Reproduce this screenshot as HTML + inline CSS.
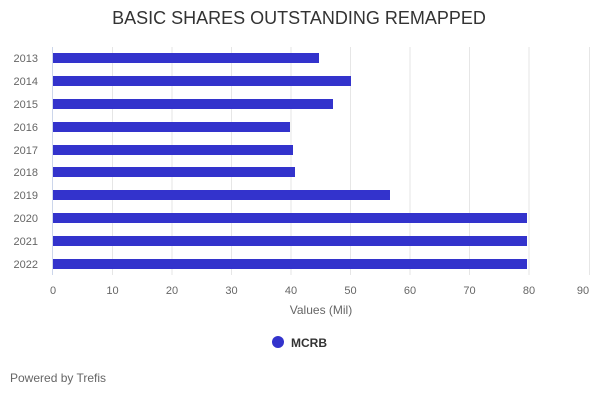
<!DOCTYPE html>
<html><head><meta charset="utf-8"><style>
body{margin:0;background:#fff;font-family:"Liberation Sans",sans-serif;}
</style></head><body>
<svg width="600" height="400" xmlns="http://www.w3.org/2000/svg" font-family="Liberation Sans, sans-serif">
<rect width="600" height="400" fill="#fff"/>
<text x="299" y="24" text-anchor="middle" font-size="18" fill="#333">BASIC SHARES OUTSTANDING REMAPPED</text>
<g stroke="#e6e6e6" stroke-width="1">
<line x1="112.5" y1="47" x2="112.5" y2="275"/>
<line x1="172" y1="47" x2="172" y2="275"/>
<line x1="231.5" y1="47" x2="231.5" y2="275"/>
<line x1="291" y1="47" x2="291" y2="275"/>
<line x1="350.5" y1="47" x2="350.5" y2="275"/>
<line x1="410" y1="47" x2="410" y2="275"/>
<line x1="469.5" y1="47" x2="469.5" y2="275"/>
<line x1="529" y1="47" x2="529" y2="275"/>
<line x1="589.5" y1="47" x2="589.5" y2="275"/>
</g>
<line x1="52.5" y1="47" x2="52.5" y2="275" stroke="#ccd6eb"/>
<g fill="#3333cc">
<rect x="53" y="53" width="266" height="10"/>
<rect x="53" y="76" width="298" height="10"/>
<rect x="53" y="99" width="280" height="10"/>
<rect x="53" y="122" width="237" height="10"/>
<rect x="53" y="145" width="240" height="10"/>
<rect x="53" y="167" width="242" height="10"/>
<rect x="53" y="190" width="337" height="10"/>
<rect x="53" y="213" width="474" height="10"/>
<rect x="53" y="236" width="474" height="10"/>
<rect x="53" y="259" width="474" height="10"/>
</g>
<g font-size="11" fill="#666" text-anchor="end">
<text x="38" y="62">2013</text><text x="38" y="85">2014</text><text x="38" y="108">2015</text>
<text x="38" y="131">2016</text><text x="38" y="154">2017</text><text x="38" y="176">2018</text>
<text x="38" y="199">2019</text><text x="38" y="222">2020</text><text x="38" y="245">2021</text>
<text x="38" y="268">2022</text>
</g>
<g font-size="11" fill="#666" text-anchor="middle">
<text x="53" y="294">0</text><text x="112.5" y="294">10</text><text x="172" y="294">20</text>
<text x="231.5" y="294">30</text><text x="291" y="294">40</text><text x="350.5" y="294">50</text>
<text x="410" y="294">60</text><text x="469.5" y="294">70</text><text x="529" y="294">80</text>
<text x="583" y="294">90</text>
</g>
<text x="321" y="314" text-anchor="middle" font-size="12" fill="#666">Values (Mil)</text>
<circle cx="278" cy="342" r="6" fill="#3333cc"/>
<text x="291" y="347" font-size="12" font-weight="bold" fill="#333">MCRB</text>
<text x="10" y="382" font-size="12" fill="#666">Powered by Trefis</text>
</svg>
</body></html>
